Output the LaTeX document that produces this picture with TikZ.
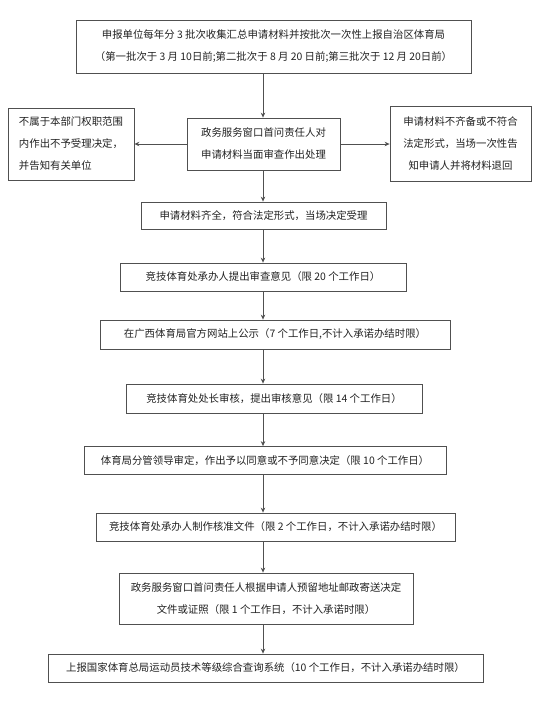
\documentclass[tikz,border=0pt]{standalone}
\usepackage{fontspec}
\setmainfont{Noto Sans CJK SC}
\usetikzlibrary{arrows.meta}
\definecolor{linec}{HTML}{505050}
\definecolor{txtc}{HTML}{222222}
\tikzset{
  box/.style={draw=linec, line width=0.8pt, inner sep=0pt, align=center,
    text=txtc, font=\fontsize{10.4pt}{22pt}\selectfont},
  conn/.style={draw=linec, line width=0.8pt, -{Stealth[length=5pt,width=4.5pt]}}
}
\begin{document}
\begin{tikzpicture}[x=1pt,y=-1pt]
\useasboundingbox[fill=white] (0,0) rectangle (554,704);
\coordinate (sp) at (263,0);
\node[box, minimum width=395pt, minimum height=53pt] (b1) at (273.5,46.5)
  {申报单位每年分 3 批次收集汇总申请材料并按批次一次性上报自治区体育局\\（第一批次于 3 月 10日前;第二批次于 8 月 20 日前;第三批次于 12 月 20日前）};
\node[box, minimum width=153pt, minimum height=52pt] (b2) at (263.5,144)
  {政务服务窗口首问责任人对\\申请材料当面审查作出处理};
\node[box, minimum width=126pt, minimum height=72pt, align=left] (lb) at (71,144)
  {不属于本部门权职范围\\内作出不予受理决定，\\并告知有关单位};
\node[box, minimum width=141pt, minimum height=75pt] (rb) at (460.5,144)
  {申请材料不齐备或不符合\\法定形式，当场一次性告\\知申请人并将材料退回};
\node[box, minimum width=245pt, minimum height=27pt] (b3) at (263.5,215.5)
  {申请材料齐全，符合法定形式，当场决定受理};
\node[box, minimum width=286pt, minimum height=28pt] (b4) at (263,277)
  {竞技体育处承办人提出审查意见（限 20 个工作日）};
\node[box, minimum width=350pt, minimum height=29pt] (b5) at (275,334.5)
  {在广西体育局官方网站上公示（7 个工作日,不计入承诺办结时限）};
\node[box, minimum width=296pt, minimum height=29pt] (b6) at (274,398.5)
  {竞技体育处处长审核，提出审核意见（限 14 个工作日）};
\node[box, minimum width=362pt, minimum height=28pt] (b7) at (265,460.5)
  {体育局分管领导审定，作出予以同意或不予同意决定（限 10 个工作日）};
\node[box, minimum width=359pt, minimum height=28pt] (b8) at (275.5,527)
  {竞技体育处承办人制作核准文件（限 2 个工作日，不计入承诺办结时限）};
\node[box, minimum width=294pt, minimum height=51pt] (b9) at (266,598.5)
  {政务服务窗口首问责任人根据申请人预留地址邮政寄送决定\\文件或证照（限 1 个工作日，不计入承诺时限）};
\node[box, minimum width=435pt, minimum height=28pt] (b10) at (265.5,668)
  {上报国家体育总局运动员技术等级综合查询系统（10 个工作日，不计入承诺办结时限）};
\foreach \a/\b in {b1/b2,b2/b3,b3/b4,b4/b5,b5/b6,b6/b7,b7/b8,b8/b9,b9/b10}{
  \draw[conn] (\a.south -| sp) -- (\b.north -| sp);
}
\draw[conn] (b2.west) -- (b2.west -| lb.east);
\draw[conn] (b2.east) -- (b2.east -| rb.west);
\end{tikzpicture}
\end{document}
